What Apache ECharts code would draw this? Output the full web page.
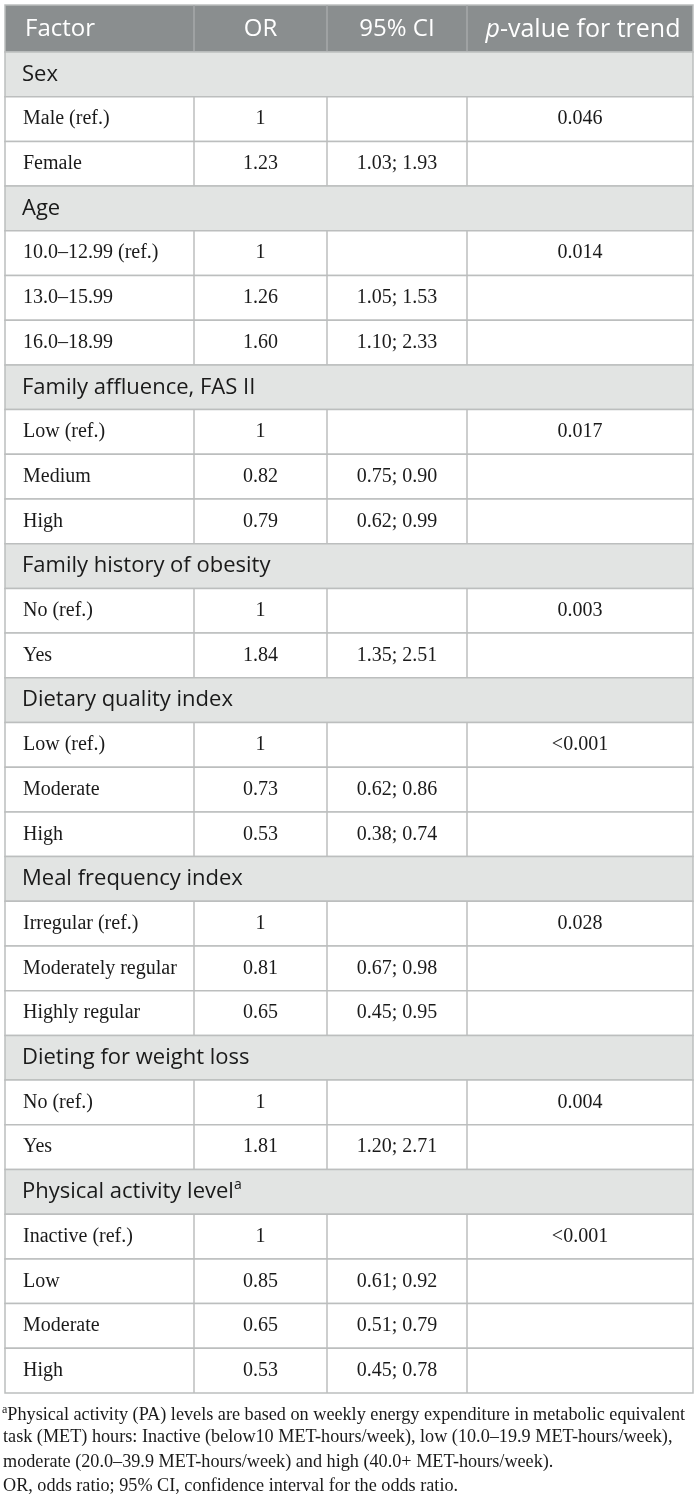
<!DOCTYPE html>
<html>
<head>
<meta charset="utf-8">
<script src="https://cdn.jsdelivr.net/npm/echarts@6/dist/echarts.min.js"></script>
<style>
  html, body, #main { width: 100%; height: 100%; margin: 0; background: #fff; }
</style>
</head>
<body>
<div id="main"></div>
<script>
// table content
var headers = ['Factor', 'OR', '95% CI', 'p-value for trend'];
var groups = ['Sex', 'Age', 'Family affluence, FAS II', 'Family history of obesity',
  'Dietary quality index', 'Meal frequency index', 'Dieting for weight loss', 'Physical activity level'];
var levels = [
  ['Male (ref.)', 'Female'],
  ['10.0\u201312.99 (ref.)', '13.0\u201315.99', '16.0\u201318.99'],
  ['Low (ref.)', 'Medium', 'High'],
  ['No (ref.)', 'Yes'],
  ['Low (ref.)', 'Moderate', 'High'],
  ['Irregular (ref.)', 'Moderately regular', 'Highly regular'],
  ['No (ref.)', 'Yes'],
  ['Inactive (ref.)', 'Low', 'Moderate', 'High']
];
var oddsRatios = [
  [1, 1.23], [1, 1.26, 1.60], [1, 0.82, 0.79], [1, 1.84],
  [1, 0.73, 0.53], [1, 0.81, 0.65], [1, 1.81], [1, 0.85, 0.65, 0.53]
];
var ciLower = [
  [null, 1.03], [null, 1.05, 1.10], [null, 0.75, 0.62], [null, 1.35],
  [null, 0.62, 0.38], [null, 0.67, 0.45], [null, 1.20], [null, 0.61, 0.51, 0.45]
];
var ciUpper = [
  [null, 1.93], [null, 1.53, 2.33], [null, 0.90, 0.99], [null, 2.51],
  [null, 0.86, 0.74], [null, 0.98, 0.95], [null, 2.71], [null, 0.92, 0.79, 0.78]
];
var pTrend = ['0.046', '0.014', '0.017', '0.003', '<0.001', '0.028', '0.004', '<0.001'];
var footnotes = [
  'Physical activity (PA) levels are based on weekly energy expenditure in metabolic equivalent',
  'task (MET) hours: Inactive (below10 MET-hours/week), low (10.0\u201319.9 MET-hours/week),',
  'moderate (20.0\u201339.9 MET-hours/week) and high (40.0+ MET-hours/week).',
  'OR, odds ratio; 95% CI, confidence interval for the odds ratio.'
];

// layout
var colEdges = [5, 194, 327, 467, 693];
var ROW_TOP = 52, ROW_H = 44.7, HEAD_H = 47;
var SANS = '"Open Sans", sans-serif';
var SERIF = '"Liberation Serif", serif';
var BORDER = '#bcbebe';
var INK = '#1a1a1a';

// flatten rows
var rows = [];
groups.forEach(function (g, gi) {
  rows.push({ kind: 'group', label: g, sup: gi === groups.length - 1 ? 'a' : '' });
  levels[gi].forEach(function (lv, li) {
    var v = oddsRatios[gi][li];
    rows.push({
      kind: 'level',
      label: lv,
      or: v === 1 ? '1' : v.toFixed(2),
      ci: ciLower[gi][li] == null ? '' : ciLower[gi][li].toFixed(2) + '; ' + ciUpper[gi][li].toFixed(2),
      p: li === 0 ? pTrend[gi] : ''
    });
  });
});

// first item is the header row, the rest are table rows (y = row index)
var rowData = [[-HEAD_H / ROW_H, 0]];
rows.forEach(function (r, i) { rowData.push([i, i + 1]); });

function renderRow(params, api) {
  var r = api.value(0);
  var isHead = params.dataIndex === 0;
  var y0 = api.coord([0, r])[1];
  var y1 = api.coord([0, isHead ? 0 : r + 1])[1];
  var xs = colEdges.map(function (x) { return api.coord([x, 0])[0]; });
  var mid = (y0 + y1) / 2;
  var ch = [];
  var row = isHead ? null : rows[params.dataIndex - 1];
  var fill = isHead ? '#8a8e8f' : (row.kind === 'group' ? '#e2e4e3' : '#ffffff');
  ch.push({ type: 'rect', shape: { x: xs[0], y: y0, width: xs[4] - xs[0], height: y1 - y0 },
    style: { fill: fill, stroke: BORDER, lineWidth: 1.5 } });
  if (isHead || row.kind === 'level') {
    for (var k = 1; k < 4; k++) {
      ch.push({ type: 'line', shape: { x1: xs[k], y1: y0, x2: xs[k], y2: y1 },
        style: { stroke: isHead ? '#a6a9aa' : BORDER, lineWidth: 1.5 } });
    }
  }
  if (isHead) {
    var hf = '24px ' + SANS;
    ch.push({ type: 'text', style: { text: headers[0], x: xs[0] + 20, y: mid + 1, align: 'left', verticalAlign: 'middle', font: hf, fill: '#fff' } });
    ch.push({ type: 'text', style: { text: headers[1], x: (xs[1] + xs[2]) / 2, y: mid + 1, align: 'center', verticalAlign: 'middle', font: hf, fill: '#fff' } });
    ch.push({ type: 'text', style: { text: headers[2], x: (xs[2] + xs[3]) / 2, y: mid + 1, align: 'center', verticalAlign: 'middle', font: hf, fill: '#fff' } });
    ch.push({ type: 'text', style: {
      text: '{i|p}{n|' + headers[3].slice(1) + '}', x: (xs[3] + xs[4]) / 2 + 3, y: mid + 1, align: 'center', verticalAlign: 'middle',
      rich: {
        i: { fontFamily: SANS, fontSize: 25, fontStyle: 'italic', fill: '#fff', color: '#fff' },
        n: { fontFamily: SANS, fontSize: 25, fill: '#fff', color: '#fff' }
      } } });
  } else if (row.kind === 'group') {
    ch.push({ type: 'text', style: {
      text: '{n|' + row.label + '}' + (row.sup ? '{s|' + row.sup + '}' : ''), x: xs[0] + 17, y: mid, align: 'left', verticalAlign: 'middle',
      rich: {
        n: { fontFamily: SANS, fontSize: 22, fill: INK, color: INK, lineHeight: 28 },
        s: { fontFamily: SANS, fontSize: 14, fill: INK, color: INK, verticalAlign: 'top', lineHeight: 28 }
      } } });
  } else {
    var f = '20px ' + SERIF;
    ch.push({ type: 'text', style: { text: row.label, x: xs[0] + 18, y: mid, align: 'left', verticalAlign: 'middle', font: f, fill: INK } });
    ch.push({ type: 'text', style: { text: row.or, x: (xs[1] + xs[2]) / 2, y: mid, align: 'center', verticalAlign: 'middle', font: f, fill: INK } });
    ch.push({ type: 'text', style: { text: row.ci, x: (xs[2] + xs[3]) / 2, y: mid, align: 'center', verticalAlign: 'middle', font: f, fill: INK } });
    ch.push({ type: 'text', style: { text: row.p, x: (xs[3] + xs[4]) / 2, y: mid, align: 'center', verticalAlign: 'middle', font: f, fill: INK } });
  }
  return { type: 'group', children: ch };
}

var footGraphics = footnotes.map(function (t, k) {
  return {
    type: 'text', left: k === 0 ? 2 : 3, top: 1404 + k * 24.5,
    style: {
      text: (k === 0 ? '{s|a}' : '') + '{n|' + t + '}',
      rich: {
        n: { fontFamily: SERIF, fontSize: 18.2, fill: INK, color: INK, lineHeight: 22 },
        s: { fontFamily: SERIF, fontSize: 12, fill: INK, color: INK, verticalAlign: 'top', lineHeight: 22 }
      }
    }
  };
});

var chart = echarts.init(document.getElementById('main'));
chart.setOption({
  animation: false,
  grid: { left: 0, right: 0, top: 0, bottom: 0 },
  xAxis: { type: 'value', min: 0, max: 700, show: false },
  yAxis: { type: 'value', min: -ROW_TOP / ROW_H, max: (1504 - ROW_TOP) / ROW_H, inverse: true, show: false },
  series: [{
    type: 'custom',
    renderItem: renderRow,
    data: rowData,
    silent: true
  }],
  graphic: footGraphics
});
window.onresize = chart.resize;
</script>
</body>
</html>
